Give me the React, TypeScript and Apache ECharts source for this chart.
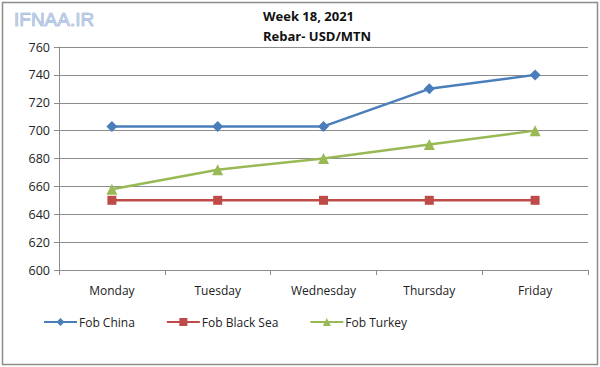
import React, { useEffect, useRef } from "react";
import * as echarts from "echarts";

const categories = ["Monday", "Tuesday", "Wednesday", "Thursday", "Friday"];
const fobChina = [703, 703, 703, 730, 740];
const fobBlackSea = [650, 650, 650, 650, 650];
const fobTurkey = [658, 672, 680, 690, 700];
const titleLines = ["Week 18, 2021", "Rebar- USD/MTN"];

const FONT = "'Open Sans', 'Liberation Sans', sans-serif";

export default function App() {
  const ref = useRef<HTMLDivElement>(null);
  useEffect(() => {
    document.body.style.margin = "0";
    const chart = echarts.init(ref.current!, null, { renderer: "svg" });
    chart.setOption({
      animation: false,
      backgroundColor: "#ffffff",
      textStyle: { fontFamily: FONT },
      graphic: [
        {
          type: "rect",
          shape: { x: 2.5, y: 2.5, width: 595, height: 362 },
          style: { fill: "none", stroke: "#8c8c8c", lineWidth: 1.5 },
          silent: true,
        },
        {
          type: "text",
          x: 14,
          y: 10,
          style: {
            text: "IFNAA.IR",
            fontSize: 19,
            fontFamily: "'Liberation Sans', sans-serif",
            fill: "#bccde8",
            stroke: "#7d9acb",
            lineWidth: 0.6,
          },
        },
        {
          type: "text",
          x: 263,
          y: 9,
          style: {
            text: titleLines[0],
            fontSize: 13,
            fontWeight: "bold",
            fontFamily: FONT,
            fill: "#111",
          },
        },
        {
          type: "text",
          x: 263,
          y: 29,
          style: {
            text: titleLines[1],
            fontSize: 13,
            fontWeight: "bold",
            fontFamily: FONT,
            fill: "#111",
          },
        },
      ],
      grid: { left: 59, right: 12, top: 47, bottom: 97 },
      legend: {
        left: 38,
        top: 311,
        itemWidth: 33,
        itemHeight: 10,
        itemGap: 31,
        textStyle: { fontSize: 12, color: "#222", fontFamily: FONT, padding: [0, 0, 0, -3] },
        data: ["Fob China", "Fob Black Sea", "Fob Turkey"],
      },
      xAxis: {
        type: "category",
        data: categories,
        boundaryGap: true,
        axisLine: { lineStyle: { color: "#8c8c8c", width: 1 } },
        axisTick: { show: true, length: 5, lineStyle: { color: "#8c8c8c" } },
        axisLabel: { color: "#222", fontSize: 12, margin: 14, fontFamily: FONT },
      },
      yAxis: {
        type: "value",
        min: 600,
        max: 760,
        interval: 20,
        axisLine: { show: true, lineStyle: { color: "#8c8c8c", width: 1 } },
        axisTick: { show: true, length: 5, lineStyle: { color: "#8c8c8c" } },
        axisLabel: { color: "#222", fontSize: 12.5, margin: 9, fontFamily: FONT },
        splitLine: { lineStyle: { color: "#8c8c8c", width: 1 } },
      },
      series: [
        {
          name: "Fob China",
          type: "line",
          data: fobChina,
          symbol: "diamond",
          symbolSize: 11,
          itemStyle: { color: "#4a7ebb" },
          lineStyle: { color: "#4a7ebb", width: 2.5 },
        },
        {
          name: "Fob Black Sea",
          type: "line",
          data: fobBlackSea,
          symbol: "rect",
          symbolSize: 9,
          itemStyle: { color: "#be4b48" },
          lineStyle: { color: "#be4b48", width: 2.5 },
        },
        {
          name: "Fob Turkey",
          type: "line",
          data: fobTurkey,
          symbol: "triangle",
          symbolSize: 11,
          itemStyle: { color: "#98b954" },
          lineStyle: { color: "#98b954", width: 2.5 },
        },
      ],
    });
    return () => chart.dispose();
  }, []);
  return <div ref={ref} style={{ width: 600, height: 367 }} />;
}
